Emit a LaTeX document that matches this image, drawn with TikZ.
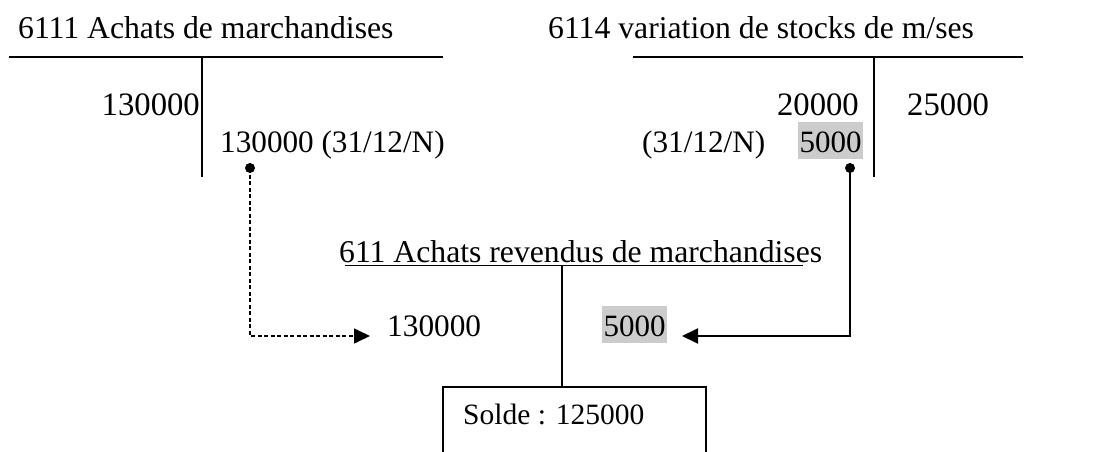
\documentclass[tikz,border=0pt]{standalone}
\usepackage{fontspec}
\setmainfont{Liberation Serif}
\usetikzlibrary{arrows.meta}
\definecolor{hlgray}{RGB}{204,204,204}
\tikzset{
  lbl/.style={inner sep=0pt, font=\fontsize{#1}{#1}\selectfont},
  lbl/.default=31,
  hl/.style={fill=hlgray, inner xsep=1.5pt, inner ysep=2pt, text height=28pt, text depth=5pt, font=\fontsize{31}{31}\selectfont},
  tline/.style={line width=2pt},
  link/.style={line width=1.9pt, -{Triangle[length=16pt,width=15pt]}},
  dotlink/.style={link, line width=1.6pt, dash pattern=on 4pt off 2.5pt},
  pin/.style={circle, fill=black, inner sep=0pt, minimum size=10pt},
}
\begin{document}
\begin{tikzpicture}[x=1pt, y=-1pt]
\useasboundingbox (0,0) rectangle (1103,452);
% account 6111
\node[lbl=31.7, anchor=base west] (t1) at (18,39) {6111 Achats de marchandises};
\draw[tline] (9,57) -- (443,57);
\draw[tline] (202,57) -- (202,177);
\node[lbl=32.7, anchor=base east] (d1) at (200,115) {130000};
\node[lbl=31.2, anchor=base west] (c1) at (220,152) {130000 (31/12/N)};
% account 6114
\node[lbl=31.7, anchor=base west] (t2) at (548,39) {6114 variation de stocks de m/ses};
\draw[tline] (633,57) -- (1023,57);
\draw[tline] (874,57) -- (874,177);
\node[lbl=32.7, anchor=base east] (d2) at (859,115) {20000};
\node[lbl=32.7, anchor=base west] (c2) at (907,115) {25000};
\node[lbl=31.2, anchor=base west] (dt2) at (642,152) {(31/12/N)};
\node[hl, anchor=base west] (d3) at (798,152) {5000};
% account 611
\node[lbl=31.7, anchor=base west] (t3) at (339,262) {611 Achats revendus de marchandises};
\draw[line width=1.6pt] (345,265.5) -- (803,265.5);
\draw[tline] (562,265) -- (562,387);
\node[lbl=31.3, anchor=base west] (e1) at (387,336) {130000};
\node[hl, anchor=base west] (e2) at (602,336) {5000};
% solde box
\draw[tline] (443,453) -- (443,387) -- (706,387) -- (706,453);
\node[lbl=29.5, anchor=base west] (s) at (463,424) {Solde : 125000};
% connectors
\node[pin] (p1) at (250,168) {};
\node[pin] (p2) at (850,168) {};
\coordinate (tipL) at (370,336);
\coordinate (tipR) at (682,336);
\draw[dotlink] (p1.center) |- (tipL);
\draw[link] (p2.center) |- (tipR);
\end{tikzpicture}
\end{document}
